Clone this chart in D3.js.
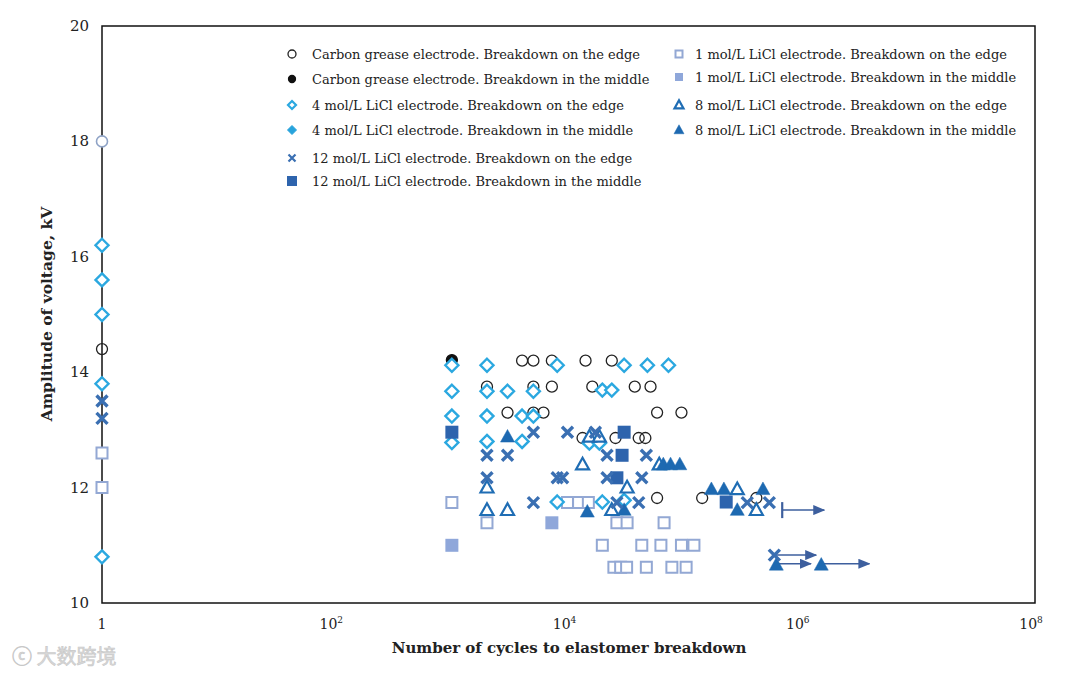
<!DOCTYPE html>
<html>
<head>
<meta charset="utf-8">
<script src="https://cdn.jsdelivr.net/npm/d3@7"></script>
<style>
  body { margin: 0; background: #fff; }
  svg { font-family: "DejaVu Serif", "Liberation Serif", serif; }
</style>
</head>
<body>
<div id="chart"></div>
<script>
// cycles to breakdown, amplitude kV
var carbonEdge = [[1,14.4],[4000,14.2],[5000,14.2],[7200,14.2],[14000,14.2],[23500,14.2],
  [2000,13.75],[5000,13.75],[7200,13.75],[16000,13.75],[37000,13.75],[50500,13.75],
  [3000,13.3],[5000,13.3],[6100,13.3],[57500,13.3],[93000,13.3],
  [13200,12.86],[25300,12.86],[40000,12.86],[45600,12.86],
  [57500,11.82],[140000,11.82],[408000,11.82]];
var carbonMiddle = [[1000,14.21]];
var unlabeled = [[1,18]];
var fourEdge = [[1,16.2],[1,15.6],[1,15.0],[1,13.8],[1,10.8],
  [1000,14.12],[1000,13.67],[1000,13.24],[1000,12.78],
  [2000,14.12],[2000,13.67],[2000,13.24],[2000,12.8],
  [3000,13.67],[5000,13.67],[4000,13.24],[5000,13.24],[4000,12.8],[8000,14.12],
  [19500,13.69],[23500,13.69],[30000,14.12],[47500,14.12],[72000,14.12],
  [15100,12.77],[18400,12.77],[8000,11.75],[19500,11.75],[30000,11.78]];
var fourMiddle = [[1,15.0]];
var twelveEdge = [[1,13.5],[1,13.2],
  [2000,12.56],[3000,12.56],[5000,12.96],[9800,12.96],[17000,12.96],[21400,12.56],[46500,12.56],
  [2000,12.17],[8000,12.17],[8900,12.17],[21400,12.17],[42500,12.17],
  [5000,11.74],[26000,11.74],[40000,11.74],[341000,11.74],[527000,11.74],[582000,10.83]];
var twelveMiddle = [[1000,12.96],[30000,12.96],[28800,12.56],[26000,12.17],[225000,11.75]];
var oneEdge = [[1,12.6],[1,12.0],
  [1000,11.74],[9800,11.74],[12200,11.74],[14800,11.74],
  [2000,11.39],[26000,11.39],[31800,11.39],[66000,11.39],
  [19500,11.0],[42500,11.0],[62000,11.0],[93000,11.0],[119000,11.0],
  [24500,10.62],[28000,10.62],[31500,10.62],[46500,10.62],[77000,10.62],[102000,10.62]];
var oneMiddle = [[1000,11.0],[7200,11.39]];
var eightEdge = [[2000,12.0],[2000,11.61],[3000,11.61],[13200,12.4],[15100,12.88],[18400,12.88],
  [31800,12.0],[23500,11.61],[60000,12.4],[280000,11.97],[408000,11.61]];
var eightMiddle = [[3000,12.88],[14500,11.58],[30000,11.61],[65000,12.4],[75000,12.4],[90000,12.4],
  [168000,11.97],[215000,11.97],[465000,11.97],[280000,11.61],[605000,10.66],[1470000,10.66]];
// runs that had not broken down yet: [from, to, kV]
var runouts = [[680000,1560000,11.61],[582000,1330000,10.83],[605000,1200000,10.68],[1470000,3800000,10.68]];

var xTicks = [1, 1e2, 1e4, 1e6, 1e8];
var xTickLabels = ["1", "10", "10", "10", "10"];
var xTickExp = ["", "2", "4", "6", "8"];
var yTicks = [10, 12, 14, 16, 18, 20];

var W = 1080, H = 675;
var svg = d3.select("#chart").append("svg").attr("width", W).attr("height", H);

var x = d3.scaleLog().domain([1, 1e8]).range([102, 1035]);
var y = d3.scaleLinear().domain([10, 20]).range([603, 26]);

// shape paths centred at 0,0
function shape(type, s) {
  if (type == "circle") return d3.symbol(d3.symbolCircle, Math.PI * s * s)();
  if (type == "square") return "M" + -s + "," + -s + "h" + 2*s + "v" + 2*s + "h" + -2*s + "Z";
  if (type == "diamond") return "M0," + -s + "L" + s + ",0L0," + s + "L" + -s + ",0Z";
  if (type == "triangle") return "M0," + (-s*1.05) + "L" + s + "," + (s*0.75) + "L" + -s + "," + (s*0.75) + "Z";
  if (type == "x") return "M" + -s + "," + -s + "L" + s + "," + s + "M" + -s + "," + s + "L" + s + "," + -s;
}

var series = [
  {name: "Carbon grease electrode. Breakdown in the middle", data: carbonMiddle, type: "circle", size: 5.5, fill: "#111", stroke: "#111", sw: 1.3, lsize: 3.5},
  {name: "Carbon grease electrode. Breakdown on the edge", data: carbonEdge, type: "circle", size: 5.5, fill: "none", stroke: "#222", sw: 1.3, lsize: 4},
  {name: null, data: unlabeled, type: "circle", size: 5.5, fill: "#fff", stroke: "#8fa3c6", sw: 1.6},
  {name: "1 mol/L LiCl electrode. Breakdown on the edge", data: oneEdge, type: "square", size: 5.5, fill: "#fff", stroke: "#93a8d4", sw: 2, lsize: 3.5},
  {name: "1 mol/L LiCl electrode. Breakdown in the middle", data: oneMiddle, type: "square", size: 6.5, fill: "#8fa7da", stroke: "#8fa7da", sw: 0, lsize: 4},
  {name: "4 mol/L LiCl electrode. Breakdown in the middle", data: fourMiddle, type: "diamond", size: 6.5, fill: "#27a3dc", stroke: "#27a3dc", sw: 1, lsize: 4.5},
  {name: "4 mol/L LiCl electrode. Breakdown on the edge", data: fourEdge, type: "diamond", size: 6.5, fill: "#fff", stroke: "#2ba8e0", sw: 2.4, lsize: 4},
  {name: "8 mol/L LiCl electrode. Breakdown on the edge", data: eightEdge, type: "triangle", size: 6.5, fill: "#fff", stroke: "#1f6db4", sw: 2.2, lsize: 4.5},
  {name: "8 mol/L LiCl electrode. Breakdown in the middle", data: eightMiddle, type: "triangle", size: 7, fill: "#1d69b1", stroke: "#1d69b1", sw: 0.5, lsize: 5},
  {name: "12 mol/L LiCl electrode. Breakdown in the middle", data: twelveMiddle, type: "square", size: 6.5, fill: "#2e64ad", stroke: "#2e64ad", sw: 0, lsize: 5},
  {name: "12 mol/L LiCl electrode. Breakdown on the edge", data: twelveEdge, type: "x", size: 5.5, fill: "none", stroke: "#3a6fb2", sw: 3.4, lsize: 3.5}
];

// frame
svg.append("rect").attr("x", 102).attr("y", 26).attr("width", 933).attr("height", 577)
  .attr("fill", "none").attr("stroke", "#111").attr("stroke-width", 1.5);

// y tick labels
svg.selectAll(".ytick").data(yTicks).enter().append("text")
  .attr("x", 89).attr("y", function(d) { return y(d) + 5; })
  .attr("text-anchor", "end").attr("font-size", 15).attr("fill", "#222")
  .text(function(d) { return d; });

// x tick labels
var xt = svg.selectAll(".xtick").data(xTicks).enter().append("text")
  .attr("x", function(d, i) { return x(d) - (i ? 4 : 0); }).attr("y", 629)
  .attr("text-anchor", "middle").attr("font-size", 14).attr("fill", "#222");
xt.append("tspan").text(function(d, i) { return xTickLabels[i]; });
xt.append("tspan").attr("dy", -6).attr("font-size", 9).text(function(d, i) { return xTickExp[i]; });

// axis titles
svg.append("text").attr("x", 569).attr("y", 653).attr("text-anchor", "middle")
  .attr("font-size", 15).attr("font-weight", "bold").attr("fill", "#222")
  .text("Number of cycles to elastomer breakdown");
svg.append("text").attr("transform", "translate(52,314) rotate(-90)").attr("text-anchor", "middle")
  .attr("font-size", 15.5).attr("font-weight", "bold").attr("fill", "#222")
  .text("Amplitude of voltage, kV");

// run-out arrows
svg.append("defs").append("marker").attr("id", "arr")
  .attr("viewBox", "0 0 12 10").attr("refX", 11).attr("refY", 5)
  .attr("markerUnits", "userSpaceOnUse")
  .attr("markerWidth", 12).attr("markerHeight", 10).attr("orient", "auto")
  .append("path").attr("d", "M0,0L12,5L0,10Z").attr("fill", "#3d5f9e");
svg.selectAll(".runout").data(runouts).enter().append("line")
  .attr("x1", function(d) { return x(d[0]); }).attr("x2", function(d) { return x(d[1]); })
  .attr("y1", function(d) { return y(d[2]); }).attr("y2", function(d) { return y(d[2]); })
  .attr("stroke", "#3d5f9e").attr("stroke-width", 1.5).attr("marker-end", "url(#arr)");
svg.append("line")
  .attr("x1", x(runouts[0][0])).attr("x2", x(runouts[0][0]))
  .attr("y1", y(runouts[0][2]) - 8).attr("y2", y(runouts[0][2]) + 8)
  .attr("stroke", "#3d5f9e").attr("stroke-width", 2.2);

// points
series.forEach(function(s) {
  svg.append("g").selectAll("path").data(s.data).enter().append("path")
    .attr("d", shape(s.type, s.size))
    .attr("transform", function(d) { return "translate(" + x(d[0]) + "," + y(d[1]) + ")"; })
    .attr("fill", s.fill).attr("stroke", s.stroke).attr("stroke-width", s.sw);
});

// legend
var byName = {};
series.forEach(function(s) { if (s.name) byName[s.name] = s; });
var legendRows = [
  ["Carbon grease electrode. Breakdown on the edge", 292, 54],
  ["Carbon grease electrode. Breakdown in the middle", 292, 79],
  ["4 mol/L LiCl electrode. Breakdown on the edge", 292, 105],
  ["4 mol/L LiCl electrode. Breakdown in the middle", 292, 130],
  ["12 mol/L LiCl electrode. Breakdown on the edge", 292, 158],
  ["12 mol/L LiCl electrode. Breakdown in the middle", 292, 181],
  ["1 mol/L LiCl electrode. Breakdown on the edge", 679, 54],
  ["1 mol/L LiCl electrode. Breakdown in the middle", 679, 77],
  ["8 mol/L LiCl electrode. Breakdown on the edge", 679, 105],
  ["8 mol/L LiCl electrode. Breakdown in the middle", 679, 130]
];
var lg = svg.append("g").selectAll("g").data(legendRows).enter().append("g")
  .attr("transform", function(d) { return "translate(" + d[1] + "," + d[2] + ")"; });
lg.append("path")
  .attr("d", function(d) { var s = byName[d[0]]; return shape(s.type, s.lsize); })
  .attr("fill", function(d) { return byName[d[0]].fill; })
  .attr("stroke", function(d) { return byName[d[0]].stroke; })
  .attr("stroke-width", function(d) { return Math.min(byName[d[0]].sw, 2.2); });
lg.append("text").attr("x", function(d) { return d[1] < 500 ? 20 : 16; }).attr("y", 5)
  .attr("font-size", 13).attr("fill", "#222")
  .text(function(d) { return d[0]; });

// watermark
svg.append("text").attr("x", 12).attr("y", 664).attr("font-family", "Noto Sans CJK SC")
  .attr("font-size", 20).attr("fill", "#d8d8d8").attr("stroke", "#c8c8c8").attr("stroke-width", 0.6)
  .text("ⓒ 大数跨境");
</script>
</body>
</html>
